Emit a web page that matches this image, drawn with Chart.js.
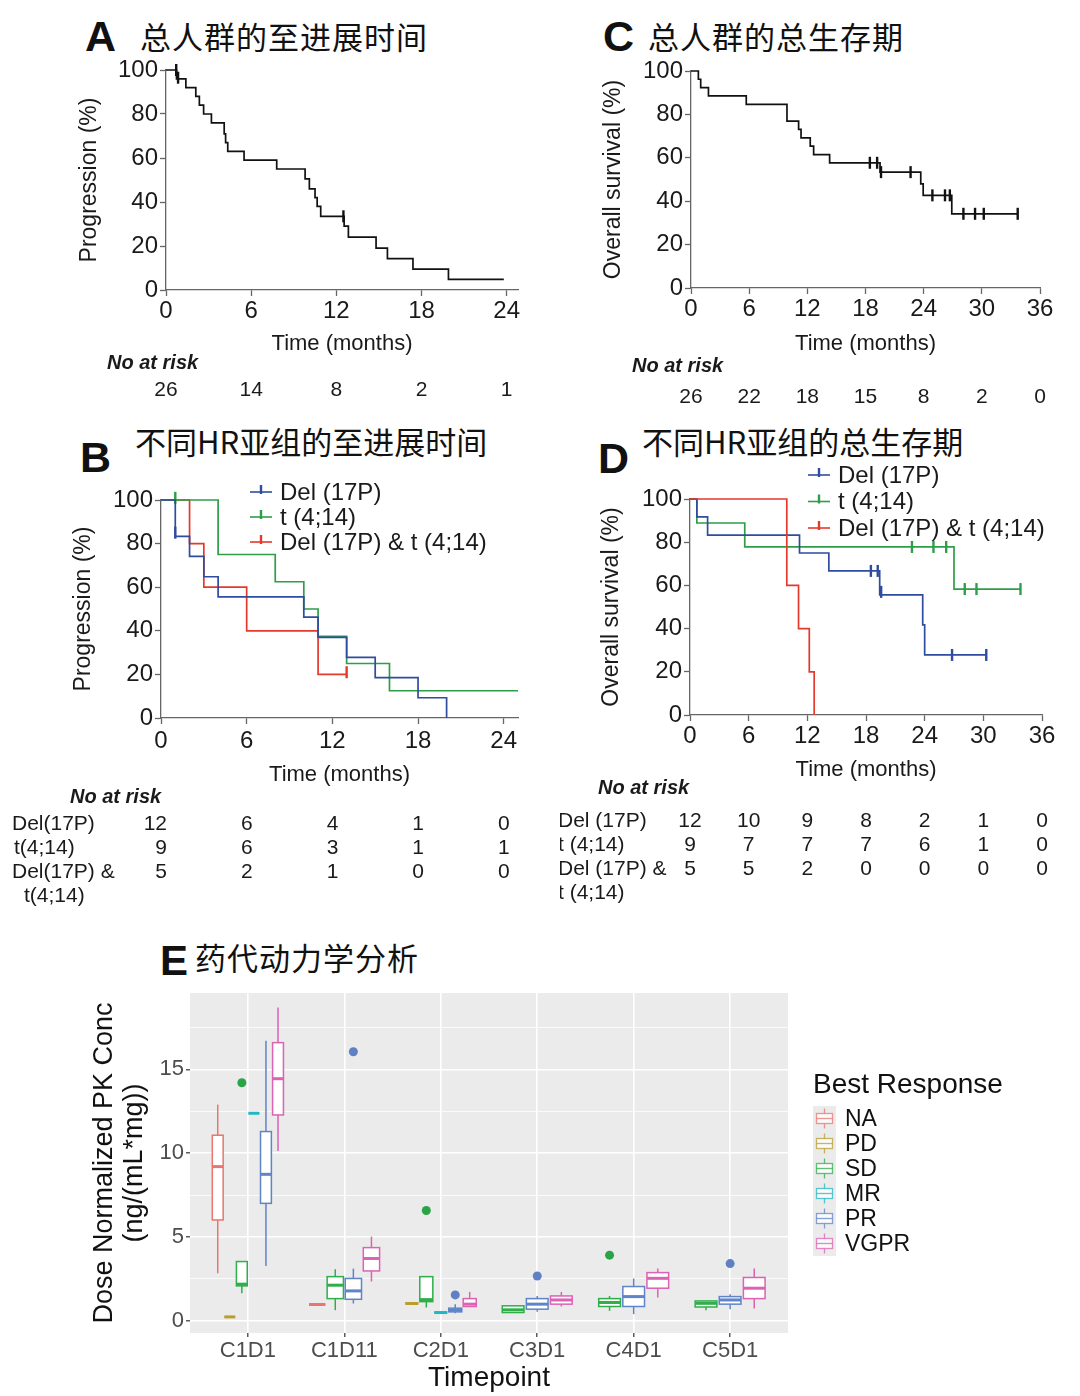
<!DOCTYPE html>
<html><head><meta charset="utf-8">
<script src="https://cdn.jsdelivr.net/npm/chart.js@4.4.1/dist/chart.umd.min.js"></script>
<style>
html,body{margin:0;padding:0;background:#fff;}
body{width:1080px;height:1396px;position:relative;overflow:hidden;font-family:"Liberation Sans",Arial,sans-serif;color:#111;}
canvas{position:absolute;}
.t{position:absolute;white-space:nowrap;line-height:1;color:#111;}
.L{font-weight:bold;font-family:"Liberation Sans",Arial,sans-serif;}
.cn{font-family:"Noto Sans CJK SC",sans-serif;}
</style></head><body>
<div class="t L" style="left:85px;top:15px;font-size:43px">A</div>
<div class="t cn" style="left:140px;top:20px;font-size:31px;letter-spacing:1px">总人群的至进展时间</div>
<div class="t L" style="left:603px;top:15px;font-size:43px">C</div>
<div class="t cn" style="left:648px;top:20px;font-size:31px;letter-spacing:1px">总人群的总生存期</div>
<div class="t L" style="left:80px;top:436px;font-size:43px">B</div>
<div class="t cn" style="left:135px;top:425px;font-size:31px">不同HR亚组的至进展时间</div>
<div class="t L" style="left:598px;top:437px;font-size:43px">D</div>
<div class="t cn" style="left:642px;top:425px;font-size:31px">不同HR亚组的总生存期</div>
<div class="t L" style="left:160px;top:940px;font-size:42px">E</div>
<div class="t cn" style="left:195px;top:941px;font-size:31px;letter-spacing:1px">药代动力学分析</div>

<canvas id="cA" width="500" height="360" style="left:60px;top:50px"></canvas>
<canvas id="cC" width="500" height="360" style="left:580px;top:50px"></canvas>
<canvas id="cB" width="560" height="440" style="left:0px;top:470px"></canvas>
<canvas id="cD" width="520" height="455" style="left:560px;top:455px"></canvas>
<canvas id="cE" width="1080" height="421" style="left:0px;top:975px"></canvas>

<script>
// ===== Panel A: time to progression, all patients =====
const aTimes = [0, 0.74, 1.4, 2.1, 2.35, 2.65, 3.2, 4.1, 4.2, 4.35, 5.5, 7.8, 9.8, 10.1, 10.5, 10.65, 10.9, 12.55, 12.85, 14.8, 15.6, 17.4, 19.9, 23.8];
const aSurv  = [100, 96, 92, 88, 84, 80, 76, 71, 67, 63, 59, 55, 50.5, 46, 42, 38, 33.5, 29, 24, 19, 14.3, 9.5, 4.8, 4.8];
const aCensorT = [0.72, 0.85, 12.5];
const aCensorS = [100, 96.5, 33.5];
const aRiskTimes = [0, 6, 12, 18, 24];
const aRisk = [26, 14, 8, 2, 1];

// ===== Panel C: overall survival, all patients =====
const cTimes = [0, 0.76, 1.0, 1.8, 5.7, 9.9, 11.1, 11.35, 12.3, 12.65, 14.3, 19.5, 23.7, 23.95, 26.9, 33.7];
const cSurv  = [100, 96.2, 92.3, 88.5, 84.6, 76.9, 73.1, 69.2, 65.4, 61.5, 57.7, 53.4, 48.0, 42.7, 34.2, 34.2];
const cCensorT = [18.45, 19.2, 19.6, 22.65, 24.9, 26.2, 26.7, 28.1, 29.3, 30.2, 33.7];
const cCensorS = [57.7, 57.7, 53.4, 53.4, 42.7, 42.7, 42.7, 34.2, 34.2, 34.2, 34.2];
const cRiskTimes = [0, 6, 12, 18, 24, 30, 36];
const cRisk = [26, 22, 18, 15, 8, 2, 0];

// ===== Panel B: time to progression by HR subgroup =====
const bDelT  = [0, 1, 2, 3, 4, 10, 11, 13, 15, 18, 20];
const bDelS  = [100, 83.3, 74.1, 64.8, 55.6, 46.3, 37.0, 27.8, 18.5, 9.3, 0];
const bDelCT = [1];
const bDelCS = [85];
const bT414T  = [0, 4, 8, 10, 11, 13, 16, 25];
const bT414S  = [100, 75, 62.5, 50, 37.5, 25, 12.5, 12.5];
const bT414CT = [1];
const bT414CS = [101];
const bBothT  = [0, 2, 3, 6, 11, 13];
const bBothS  = [100, 80, 60, 40, 20, 20];
const bBothCT = [13];
const bBothCS = [21];
const bRiskTimes = [0, 6, 12, 18, 24];
const bRiskDel  = [12, 6, 4, 1, 0];
const bRiskT414 = [9, 6, 3, 1, 1];
const bRiskBoth = [5, 2, 1, 0, 0];

// ===== Panel D: overall survival by HR subgroup =====
const dDelT  = [0, 0.7, 1.8, 11.2, 14.2, 19.4, 23.8, 24.0, 30.3];
const dDelS  = [100, 91.7, 83.3, 75, 66.7, 55.6, 41.7, 27.8, 27.8];
const dDelCT = [18.5, 19.2, 19.55, 26.8, 30.3];
const dDelCS = [66.7, 66.7, 57, 27.8, 27.8];
const dT414T  = [0, 0.7, 5.6, 27.0, 33.8];
const dT414S  = [100, 88.9, 77.8, 58.3, 58.3];
const dT414CT = [22.7, 24.9, 26.2, 28.1, 29.3, 33.8];
const dT414CS = [77.8, 77.8, 77.8, 58.3, 58.3, 58.3];
const dBothT  = [0, 9.9, 11.1, 12.2, 12.7];
const dBothS  = [100, 60, 40, 20, 0];
const dBothCT = [];
const dBothCS = [];
const dRiskTimes = [0, 6, 12, 18, 24, 30, 36];
const dRiskDel  = [12, 10, 9, 8, 2, 1, 0];
const dRiskT414 = [9, 7, 7, 7, 6, 1, 0];
const dRiskBoth = [5, 5, 2, 0, 0, 0, 0];

// ===== Panel E: PK box plots =====
const categories = ['C1D1', 'C1D11', 'C2D1', 'C3D1', 'C4D1', 'C5D1'];
const responses  = ['NA', 'PD', 'SD', 'MR', 'PR', 'VGPR'];
// rows: [timepoint index, lower whisker, Q1, median, Q3, upper whisker]
const boxNA   = [[0, 2.84, 6.02, 9.2, 11.07, 12.9], [1, 0.98, 0.98, 0.98, 0.98, 0.98]];
const boxPD   = [[0, 0.24, 0.24, 0.24, 0.24, 0.24], [2, 1.04, 1.04, 1.04, 1.04, 1.04]];
const boxSD   = [[0, 1.65, 2.09, 2.19, 3.54, 3.54], [1, 0.64, 1.33, 2.13, 2.64, 3.08], [2, 0.8, 1.15, 1.27, 2.64, 2.64],
                 [3, 0.5, 0.5, 0.66, 0.9, 0.95], [4, 0.6, 0.86, 1.1, 1.33, 1.49], [5, 0.64, 0.83, 1.05, 1.19, 1.19]];
const boxMR   = [[0, 12.38, 12.38, 12.38, 12.38, 12.38], [2, 0.5, 0.5, 0.5, 0.5, 0.5]];
const boxPR   = [[0, 3.28, 7.01, 8.74, 11.29, 16.7], [1, 1.04, 1.29, 1.79, 2.53, 3.12], [2, 0.46, 0.54, 0.64, 0.76, 1.0],
                 [3, 0.54, 0.7, 1.0, 1.33, 1.49], [4, 0.4, 0.86, 1.45, 2.05, 2.53], [5, 0.7, 1.0, 1.25, 1.45, 1.59]];
const boxVGPR = [[0, 10.13, 12.28, 14.44, 16.59, 18.68], [1, 2.35, 2.98, 3.72, 4.37, 5.03], [2, 0.86, 0.86, 1.0, 1.33, 1.73],
                 [3, 0.86, 1.0, 1.25, 1.49, 1.73], [4, 1.39, 1.95, 2.54, 2.88, 3.12], [5, 0.74, 1.33, 1.95, 2.59, 3.12]];
// outliers: [timepoint index, value]
const outSD = [[0, 14.2], [2, 6.58], [4, 3.92]];
const outPR = [[1, 16.05], [2, 1.55], [3, 2.68], [5, 3.42]];
const yTicksE = [0, 5, 10, 15];

// ---------------------------------------------------------------
const FONT = '"Liberation Sans", Arial, sans-serif';
Chart.defaults.font.family = FONT;
Chart.defaults.color = '#1a1a1a';
const BLUE = '#2f4c9e', GREEN = '#2f9e48', RED = '#e5392c', BLACK = '#111';
const AXIS = '#666';

function pts(t, s) { return t.map((v, i) => ({x: v, y: s[i]})); }
function seg(ctx, x1, y1, x2, y2) { ctx.beginPath(); ctx.moveTo(x1, y1); ctx.lineTo(x2, y2); ctx.stroke(); }

function kmExtras(spec) {
  return {
    id: 'kmExtras',
    afterDraw(chart) {
      const ctx = chart.ctx, xs = chart.scales.x, ox = spec.ox, oy = spec.oy;
      ctx.save();
      ctx.fillStyle = '#1a1a1a';
      ctx.textBaseline = 'middle';
      ctx.textAlign = 'left';
      ctx.font = 'italic bold 20px ' + FONT;
      ctx.fillText('No at risk', spec.head[0] - ox, spec.head[1] - oy);
      ctx.font = '21px ' + FONT;
      spec.rows.forEach(row => {
        ctx.textAlign = 'left';
        (row.label || []).forEach((ln, li) => ctx.fillText(ln, row.labelX[li] - ox, row.y + li * 24 - oy));
        ctx.textAlign = spec.numAlign;
        row.values.forEach((v, j) => ctx.fillText(String(v), xs.getPixelForValue(spec.times[j]) + spec.numDx, row.y - oy));
      });
      if (spec.legend) {
        const L = spec.legend;
        L.items.forEach((it, i) => {
          const y = L.y0 + i * L.dy - oy, x0 = L.x - ox;
          ctx.strokeStyle = it.color;
          ctx.lineWidth = 1.6; seg(ctx, x0, y, x0 + 22, y);
          ctx.lineWidth = 2.4; seg(ctx, x0 + 11, y - 7, x0 + 11, y + 2);
          ctx.font = '24px ' + FONT; ctx.textAlign = 'left'; ctx.fillStyle = '#1a1a1a';
          ctx.fillText(it.label, x0 + 30, y + 1);
        });
      }
      ctx.restore();
    }
  };
}

function kmChart(id, rect, area, cfg) {
  const yW = area.l - rect.x, xH = rect.y + rect.h - area.b;
  const padTop = area.t - rect.y, padRight = rect.x + rect.w - area.r;
  const datasets = [];
  cfg.curves.forEach(c => {
    datasets.push({type: 'line', data: pts(c.t, c.s), borderColor: c.color, borderWidth: 1.7,
      stepped: true, showLine: true, pointRadius: 0, fill: false, clip: false, order: c.order});
    datasets.push({type: 'scatter', data: pts(c.ct, c.cs), showLine: false, pointStyle: 'line', pointRotation: 90,
      pointRadius: 6, pointBorderColor: c.color, pointBorderWidth: 2.4, clip: false, order: c.order});
  });
  const tickFont = {family: FONT, size: 24};
  return new Chart(document.getElementById(id), {
    type: 'scatter',
    data: {datasets},
    plugins: [kmExtras(Object.assign({ox: rect.x, oy: rect.y}, cfg.extras))],
    options: {
      responsive: false, animation: false, events: [],
      layout: {padding: {left: 0, top: padTop, right: padRight, bottom: 0}},
      plugins: {legend: {display: false}, tooltip: {enabled: false}},
      scales: {
        x: {type: 'linear', min: 0, max: cfg.xMax,
          afterFit(s) { s.height = xH; s.paddingLeft = 0; s.paddingRight = 0; },
          ticks: {stepSize: 6, includeBounds: false, autoSkip: false, maxRotation: 0, color: '#1a1a1a', font: tickFont, padding: cfg.xTickPad},
          grid: {drawOnChartArea: false, drawTicks: true, tickLength: 6, tickColor: AXIS, tickWidth: 1.3},
          border: {display: true, color: AXIS, width: 1.3},
          title: {display: true, text: 'Time (months)', color: '#1a1a1a', font: {family: FONT, size: 22, lineHeight: 1.1}, padding: {top: 0, bottom: cfg.xTitlePadB}}
        },
        y: {type: 'linear', min: 0, max: 100,
          afterFit(s) { s.width = yW; s.paddingTop = 0; s.paddingBottom = 0; },
          ticks: {stepSize: 20, color: '#1a1a1a', font: tickFont, padding: 2},
          grid: {drawOnChartArea: false, drawTicks: true, tickLength: 6, tickColor: AXIS, tickWidth: 1.3},
          border: {display: true, color: AXIS, width: 1.3},
          title: {display: true, text: cfg.yTitle, color: '#1a1a1a', font: {family: FONT, size: 23, lineHeight: 1.1}, padding: {top: cfg.yTitlePad, bottom: 0}}
        }
      }
    }
  });
}

// A
kmChart('cA', {x: 60, y: 50, w: 500, h: 360}, {l: 166, t: 70, r: 518, b: 290}, {
  xMax: 24.8, xTickPad: 1, xTitlePadB: 54, yTitle: 'Progression (%)', yTitlePad: 17,
  curves: [{t: aTimes, s: aSurv, ct: aCensorT, cs: aCensorS, color: BLACK, order: 0}],
  extras: {head: [107, 363], times: aRiskTimes, numAlign: 'center', numDx: 0,
    rows: [{y: 390, values: aRisk}]}
});
// C
kmChart('cC', {x: 580, y: 50, w: 500, h: 360}, {l: 691, t: 71, r: 1040, b: 288}, {
  xMax: 36, xTickPad: 1, xTitlePadB: 54, yTitle: 'Overall survival (%)', yTitlePad: 21,
  curves: [{t: cTimes, s: cSurv, ct: cCensorT, cs: cCensorS, color: BLACK, order: 0}],
  extras: {head: [632, 366], times: cRiskTimes, numAlign: 'center', numDx: 0,
    rows: [{y: 397, values: cRisk}]}
});
// B
kmChart('cB', {x: 0, y: 470, w: 560, h: 440}, {l: 161, t: 500, r: 518, b: 718}, {
  xMax: 25, xTickPad: 3, xTitlePadB: 123, yTitle: 'Progression (%)', yTitlePad: 71,
  curves: [
    {t: bBothT, s: bBothS, ct: bBothCT, cs: bBothCS, color: RED, order: 2},
    {t: bT414T, s: bT414S, ct: bT414CT, cs: bT414CS, color: GREEN, order: 1},
    {t: bDelT, s: bDelS, ct: bDelCT, cs: bDelCS, color: BLUE, order: 0}
  ],
  extras: {head: [70, 797], times: bRiskTimes, numAlign: 'right', numDx: 6,
    rows: [
      {y: 824, values: bRiskDel, label: ['Del(17P)'], labelX: [12]},
      {y: 848, values: bRiskT414, label: ['t(4;14)'], labelX: [14]},
      {y: 872, values: bRiskBoth, label: ['Del(17P) &', 't(4;14)'], labelX: [12, 24]}
    ],
    legend: {x: 250, y0: 492, dy: 25, items: [
      {label: 'Del (17P)', color: BLUE}, {label: 't (4;14)', color: GREEN}, {label: 'Del (17P) & t (4;14)', color: RED}]}
  }
});
// D
kmChart('cD', {x: 560, y: 455, w: 520, h: 455}, {l: 690, t: 499, r: 1042, b: 715}, {
  xMax: 36, xTickPad: 1, xTitlePadB: 128, yTitle: 'Overall survival (%)', yTitlePad: 39,
  curves: [
    {t: dT414T, s: dT414S, ct: dT414CT, cs: dT414CS, color: GREEN, order: 2},
    {t: dDelT, s: dDelS, ct: dDelCT, cs: dDelCS, color: BLUE, order: 1},
    {t: dBothT, s: dBothS, ct: dBothCT, cs: dBothCS, color: RED, order: 0}
  ],
  extras: {head: [598, 788], times: dRiskTimes, numAlign: 'center', numDx: 0,
    rows: [
      {y: 821, values: dRiskDel, label: ['Del (17P)'], labelX: [558]},
      {y: 845, values: dRiskT414, label: ['t (4;14)'], labelX: [558]},
      {y: 869, values: dRiskBoth, label: ['Del (17P) &', 't (4;14)'], labelX: [558, 558]}
    ],
    legend: {x: 808, y0: 475, dy: 26.5, items: [
      {label: 'Del (17P)', color: BLUE}, {label: 't (4;14)', color: GREEN}, {label: 'Del (17P) & t (4;14)', color: RED}]}
  }
});

// ===== E =====
const respColors = ['#e8766f', '#b89f2c', '#2fae4a', '#22b8c2', '#5f84c8', '#dc62b4'];
const boxTable = [boxNA, boxPD, boxSD, boxMR, boxPR, boxVGPR];
function dodge(gi, c) {
  const present = boxTable.map((rows, i) => rows.some(r => r[0] === c) ? i : -1).filter(i => i >= 0);
  const n = present.length, k = present.indexOf(gi), w = 0.75 / n;
  return {center: c - 0.375 + (k + 0.5) * w, half: w * 0.9 / 2};
}
const eOrigin = {x: 0, y: 975};
const boxPlugin = {
  id: 'boxes',
  beforeDraw(chart) {
    const {ctx, chartArea: a} = chart;
    ctx.save(); ctx.fillStyle = '#ebebeb'; ctx.fillRect(a.left, a.top, a.right - a.left, a.bottom - a.top); ctx.restore();
  },
  beforeDatasetsDraw(chart) {
    const {ctx} = chart, xs = chart.scales.x, ys = chart.scales.y;
    ctx.save();
    boxTable.forEach((rows, gi) => rows.forEach(r => {
      const [c, lo, q1, med, q3, hi] = r;
      const d = dodge(gi, c);
      const xc = xs.getPixelForValue(d.center), xl = xs.getPixelForValue(d.center - d.half), xr = xs.getPixelForValue(d.center + d.half);
      ctx.strokeStyle = respColors[gi];
      ctx.lineWidth = 1.5;
      seg(ctx, xc, ys.getPixelForValue(lo), xc, ys.getPixelForValue(q1));
      seg(ctx, xc, ys.getPixelForValue(q3), xc, ys.getPixelForValue(hi));
      const yt = ys.getPixelForValue(q3), yb = ys.getPixelForValue(q1);
      ctx.fillStyle = '#fff';
      ctx.fillRect(xl, yt, xr - xl, yb - yt);
      ctx.strokeRect(xl, yt, xr - xl, yb - yt);
      ctx.lineWidth = 3;
      seg(ctx, xl, ys.getPixelForValue(med), xr, ys.getPixelForValue(med));
    }));
    ctx.restore();
  },
  afterDraw(chart) {
    const ctx = chart.ctx, ox = eOrigin.x, oy = eOrigin.y;
    ctx.save();
    ctx.fillStyle = '#111'; ctx.textBaseline = 'middle'; ctx.textAlign = 'left';
    ctx.font = '28px ' + FONT;
    ctx.fillText('Best Response', 813 - ox, 1085 - oy);
    const kx = 813 - ox, ky0 = 1106 - oy;
    ctx.fillStyle = '#ebebeb';
    ctx.fillRect(kx, ky0, 23, 25 * responses.length);
    responses.forEach((name, i) => {
      const cy = ky0 + 12.5 + i * 25, cx = kx + 11.5;
      ctx.strokeStyle = respColors[i]; ctx.globalAlpha = 0.75; ctx.lineWidth = 1.3;
      seg(ctx, cx, cy - 10, cx, cy - 5); seg(ctx, cx, cy + 5, cx, cy + 10);
      ctx.fillStyle = '#fff'; ctx.fillRect(cx - 8, cy - 5, 16, 10); ctx.strokeRect(cx - 8, cy - 5, 16, 10);
      seg(ctx, cx - 8, cy, cx + 8, cy);
      ctx.globalAlpha = 1;
      ctx.fillStyle = '#111'; ctx.font = '23px ' + FONT;
      ctx.fillText(name, 845 - ox, cy + 1);
    });
    ctx.restore();
  }
};
function outlierPts(rows, gi) { return rows.map(r => ({x: dodge(gi, r[0]).center, y: r[1]})); }
new Chart(document.getElementById('cE'), {
  type: 'scatter',
  data: {datasets: [
    {data: outlierPts(outSD, 2), pointRadius: 4.5, pointBackgroundColor: '#2aa446', pointBorderWidth: 0},
    {data: outlierPts(outPR, 4), pointRadius: 4.5, pointBackgroundColor: '#5f80c4', pointBorderWidth: 0}
  ]},
  plugins: [boxPlugin],
  options: {
    responsive: false, animation: false, events: [],
    layout: {padding: {left: 0, top: 18, right: 292, bottom: 0}},
    plugins: {legend: {display: false}, tooltip: {enabled: false}},
    scales: {
      x: {type: 'linear', min: -0.6, max: 5.6,
        afterFit(s) { s.height = 63; s.paddingLeft = 0; s.paddingRight = 0; },
        ticks: {stepSize: 1, includeBounds: false, autoSkip: false, maxRotation: 0, color: '#4d4d4d', font: {family: FONT, size: 22}, padding: 1,
          callback: v => categories[v] !== undefined ? categories[v] : ''},
        grid: {color: '#ffffff', lineWidth: 1.6, drawTicks: true, tickLength: 4, tickColor: '#333', tickWidth: 1.2},
        border: {display: false},
        title: {display: true, text: 'Timepoint', color: '#111', font: {family: FONT, size: 28, lineHeight: 1.1}, padding: {top: 0, bottom: 2.6}}
      },
      y: {type: 'linear', min: -0.72, max: 19.55,
        afterFit(s) { s.width = 190; s.paddingTop = 0; s.paddingBottom = 0; },
        ticks: {stepSize: 2.5, includeBounds: false, autoSkip: false, color: '#4d4d4d', font: {family: FONT, size: 22}, padding: 2,
          callback: v => yTicksE.includes(v) ? String(v) : ''},
        grid: {color: '#ffffff', lineWidth: c => (c.tick && yTicksE.includes(c.tick.value)) ? 1.6 : 0.8,
          drawTicks: true, tickLength: 4, tickWidth: 1.2,
          tickColor: c => (c.tick && yTicksE.includes(c.tick.value)) ? '#333' : 'rgba(0,0,0,0)'},
        border: {display: false},
        title: {display: true, text: ['Dose Normalized PK Conc', '(ng/(mL*mg))'], color: '#111', font: {family: FONT, size: 27, lineHeight: 1.1}, padding: {top: 90, bottom: 0}}
      }
    }
  }
});
</script>
</body></html>
